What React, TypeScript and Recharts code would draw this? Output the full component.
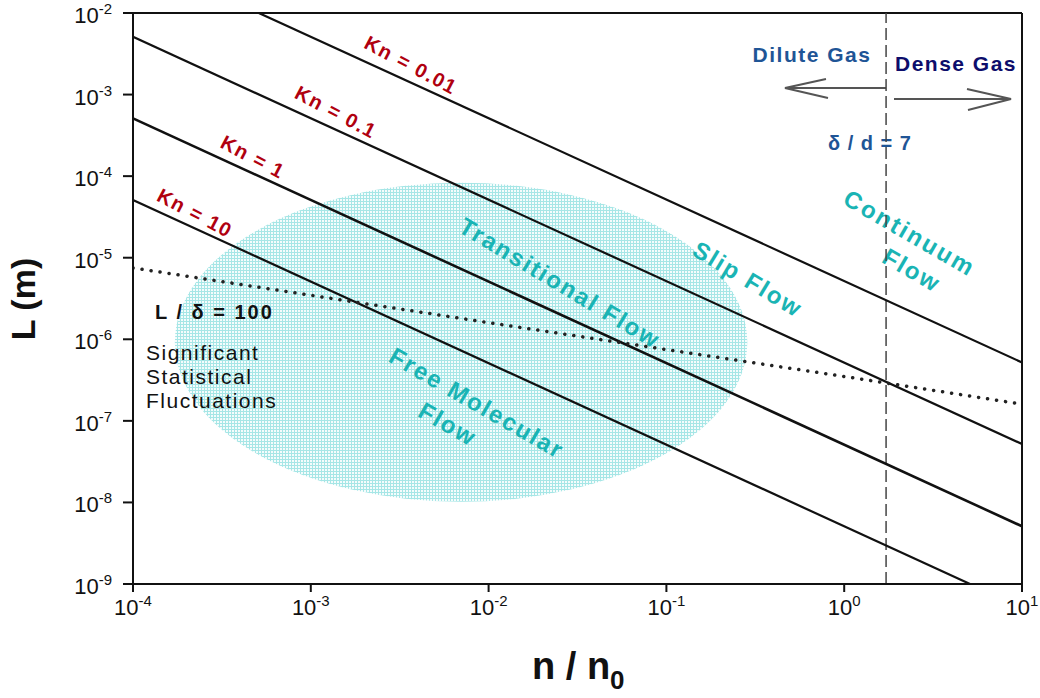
import React from 'react';
import {
  LineChart,
  Line,
  XAxis,
  YAxis,
  ReferenceLine,
  ReferenceArea
} from 'recharts';

// n / n0 ticks and L (m) ticks (log decades)
const xTicks = [1e-4, 1e-3, 1e-2, 1e-1, 1, 10];
const yTicks = [1e-9, 1e-8, 1e-7, 1e-6, 1e-5, 1e-4, 1e-3, 1e-2];

// Knudsen number lines (end points)
const kn001 = [{ n: 5.1e-4, L: 1e-2 }, { n: 10, L: 5.2e-7 }];
const kn01 = [{ n: 1e-4, L: 5.1e-3 }, { n: 10, L: 5.2e-8 }];
const kn1 = [{ n: 1e-4, L: 5.1e-4 }, { n: 10, L: 5.1e-9 }];
const kn10 = [{ n: 1e-4, L: 5.1e-5 }, { n: 5.1, L: 1e-9 }];

// L / delta = 100 (dotted)
const lDelta100 = [{ n: 1e-4, L: 7.5e-6 }, { n: 1e-2, L: 1.6e-6 }, { n: 1, L: 3.5e-7 }, { n: 10, L: 1.6e-7 }];

// delta / d = 7 boundary
const denseLimit = 1.72;

// shaded region (free molecular / transitional)
const ellipseN = [1.72e-4, 0.285];
const ellipseL = [1.02e-8, 8.3e-5];

const FONT = "Arial, 'Liberation Sans', sans-serif";
const TEAL = '#1ab4b4';
const RED = '#b0000f';

const XTick = (props: any) => {
  const { x, y, payload } = props;
  const e = Math.round(Math.log10(payload.value));
  return (
    <text x={x} y={y + 23} textAnchor="middle" fontFamily={FONT} fontSize={22} fill="#111">
      10<tspan fontSize={15} dy={-9}>{e}</tspan>
    </text>
  );
};

const YTick = (props: any) => {
  const { x, y, payload } = props;
  const e = Math.round(Math.log10(payload.value));
  return (
    <text x={x - 11} y={y + 10} textAnchor="end" fontFamily={FONT} fontSize={22} fill="#111">
      10<tspan fontSize={15} dy={-9}>{e}</tspan>
    </text>
  );
};

const Ellipse = (props: any) => {
  const { x, y, width, height } = props;
  return (
    <ellipse
      cx={x + width / 2}
      cy={y + height / 2}
      rx={width / 2}
      ry={height / 2}
      fill="url(#hatch)"
    />
  );
};

const Rot = ({ x, y, a, children, fill, size, ls = 0, weight = 'bold' }: any) => (
  <text
    x={x}
    y={y}
    transform={`rotate(${a}, ${x}, ${y})`}
    textAnchor="middle"
    dominantBaseline="central"
    fontFamily={FONT}
    fontSize={size}
    fontWeight={weight}
    letterSpacing={ls}
    fill={fill}
  >
    {children}
  </text>
);

const Annotations = () => (
  <g>
    {/* Kn labels */}
    <Rot x={411} y={65} a={28} fill={RED} size={20} ls={1.5}>Kn = 0.01</Rot>
    <Rot x={336} y={112} a={28} fill={RED} size={20} ls={1.5}>Kn = 0.1</Rot>
    <Rot x={253} y={157} a={28} fill={RED} size={20} ls={1.5}>Kn = 1</Rot>
    <Rot x={195} y={213} a={28} fill={RED} size={20} ls={1.5}>Kn = 10</Rot>

    {/* flow regimes */}
    <Rot x={560} y={283} a={31} fill={TEAL} size={24} ls={2}>Transitional Flow</Rot>
    <Rot x={748} y={279} a={31} fill={TEAL} size={24} ls={2}>Slip Flow</Rot>
    <Rot x={910} y={233} a={30} fill={TEAL} size={24} ls={2.4}>Continuum</Rot>
    <Rot x={912} y={270} a={30} fill={TEAL} size={24} ls={2}>Flow</Rot>
    <Rot x={477} y={403} a={30} fill={TEAL} size={24} ls={2}>Free Molecular</Rot>
    <Rot x={448} y={424} a={30} fill={TEAL} size={24} ls={2}>Flow</Rot>

    {/* gas regimes */}
    <text x={812} y={62} textAnchor="middle" fontFamily={FONT} fontSize={21} fontWeight="bold" letterSpacing={1.5} fill="#1f5596">Dilute Gas</text>
    <text x={956} y={71} textAnchor="middle" fontFamily={FONT} fontSize={21} fontWeight="bold" letterSpacing={1.5} fill="#0d0d6b">Dense Gas</text>
    <text x={870} y={150} textAnchor="middle" fontFamily={FONT} fontSize={20} fontWeight="bold" letterSpacing={1} fill="#1f5596">δ / d = 7</text>
    <g stroke="#555" strokeWidth={2} fill="none">
      <path d="M886 88 H785 M826 79 L785 88 L828 98" />
      <path d="M894 99 H1011 M967 89 L1011 99 L968 110" />
    </g>

    {/* statistical fluctuations */}
    <text x={155} y={319} fontFamily={FONT} fontSize={20} fontWeight="bold" letterSpacing={2} fill="#111">L / δ  = 100</text>
    <g fontFamily={FONT} fontSize={21} letterSpacing={1.5} fill="#111">
      <text x={146} y={360}>Significant</text>
      <text x={146} y={384}>Statistical</text>
      <text x={146} y={408}>Fluctuations</text>
    </g>

    {/* axis titles */}
    <text x={35} y={299} transform="rotate(-90, 35, 299)" textAnchor="middle" fontFamily={FONT} fontSize={34} fontWeight="bold" fill="#111">L (m)</text>
    <text x={532} y={679} fontFamily={FONT} fontSize={38} fontWeight="bold" fill="#111">
      n / n<tspan fontSize={26} dy={10}>0</tspan>
    </text>
  </g>
);

export default function App() {
  return (
    <div style={{ position: 'absolute', left: 0, top: 0, background: '#fff' }}>
      <LineChart width={1040} height={698} margin={{ top: 13, right: 18, left: 0, bottom: 0 }}>
        <defs>
          <pattern id="hatch" width="3" height="3" patternUnits="userSpaceOnUse">
            <rect width="3" height="3" fill="#f4fcfc" />
            <path d="M0 0.5H3M0.5 0V3" stroke="#a6e6e6" strokeWidth={1} />
          </pattern>
        </defs>
        <XAxis
          dataKey="n"
          type="number"
          scale="log"
          domain={[1e-4, 10]}
          ticks={xTicks}
          interval={0}
          allowDataOverflow
          height={114}
          tickSize={8}
          tickMargin={0}
          tick={<XTick />}
          axisLine={{ stroke: '#111', strokeWidth: 2 }}
          tickLine={{ stroke: '#111', strokeWidth: 2 }}
        />
        <YAxis
          type="number"
          scale="log"
          domain={[1e-9, 1e-2]}
          ticks={yTicks}
          interval={0}
          allowDataOverflow
          width={133}
          tickSize={10}
          tickMargin={0}
          tick={<YTick />}
          axisLine={{ stroke: '#111', strokeWidth: 2 }}
          tickLine={{ stroke: '#111', strokeWidth: 2 }}
        />
        <ReferenceArea
          x1={ellipseN[0]}
          x2={ellipseN[1]}
          y1={ellipseL[0]}
          y2={ellipseL[1]}
          shape={<Ellipse />}
        />
        <ReferenceArea
          x1={1e-4}
          x2={10}
          y1={1e-9}
          y2={1e-2}
          shape={<Annotations />}
        />
        <ReferenceLine y={1e-2} stroke="#111" strokeWidth={2} />
        <ReferenceLine x={10} stroke="#111" strokeWidth={2} />
        <ReferenceLine x={denseLimit} stroke="#444" strokeWidth={1.5} strokeDasharray="12 5" />
        <Line data={kn001} dataKey="L" stroke="#111" strokeWidth={2.2} dot={false} activeDot={false} isAnimationActive={false} />
        <Line data={kn01} dataKey="L" stroke="#111" strokeWidth={2.2} dot={false} activeDot={false} isAnimationActive={false} />
        <Line data={kn1} dataKey="L" stroke="#111" strokeWidth={2.6} dot={false} activeDot={false} isAnimationActive={false} />
        <Line data={kn10} dataKey="L" stroke="#111" strokeWidth={2.2} dot={false} activeDot={false} isAnimationActive={false} />
        <Line
          data={lDelta100}
          dataKey="L"
          stroke="#222"
          strokeWidth={3.5}
          strokeDasharray="0.1 9"
          strokeLinecap="round"
          dot={false}
          activeDot={false}
          isAnimationActive={false}
        />
      </LineChart>
    </div>
  );
}
